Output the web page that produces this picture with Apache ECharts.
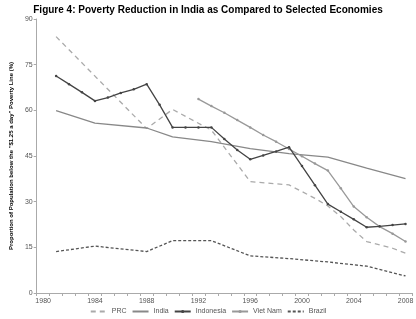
<!DOCTYPE html>
<html>
<head>
<meta charset="utf-8">
<script src="https://cdn.jsdelivr.net/npm/echarts@6/dist/echarts.min.js"></script>
<style>html,body{margin:0;padding:0;background:#fff;}#c{width:416px;height:319px;}</style>
</head>
<body>
<div id="c"></div>
<script>
var years = ['1980','1981','1982','1983','1984','1985','1986','1987','1988','1989','1990','1991','1992','1993','1994','1995','1996','1997','1998','1999','2000','2001','2002','2003','2004','2005','2006','2007','2008'];
var yTicks = [0, 15, 30, 45, 60, 75, 90];

var prcYears   = ['1981','1988','1990','1993','1996','1999','2000','2001','2002','2003','2004','2005','2006','2007','2008'];
var prcValues  = [84.2, 54.0, 60.3, 53.5, 36.6, 35.5, 33.3, 31.1, 28.6, 25.1, 20.7, 16.9, 15.8, 14.7, 13.1];

var indiaYears  = ['1981','1984','1988','1990','1993','1996','1999','2002','2005','2008'];
var indiaValues = [59.9, 55.8, 54.2, 51.3, 49.7, 47.4, 45.8, 44.6, 41.0, 37.6];

var indoYears  = ['1981','1982','1983','1984','1985','1986','1987','1988','1989','1990','1991','1992','1993','1994','1995','1996','1997','1998','1999','2000','2001','2002','2003','2004','2005','2006','2007','2008'];
var indoValues = [71.3, 68.6, 65.9, 63.1, 64.2, 65.7, 66.9, 68.6, 61.8, 54.4, 54.4, 54.4, 54.4, 50.6, 47.0, 43.9, 45.2, 46.5, 47.9, 41.7, 35.4, 29.2, 26.7, 24.2, 21.6, 21.9, 22.3, 22.7];

var vnYears  = ['1992','1993','1994','1995','1996','1997','1998','1999','2000','2001','2002','2003','2004','2005','2006','2007','2008'];
var vnValues = [63.7, 61.4, 59.2, 56.8, 54.4, 51.9, 49.7, 47.3, 44.9, 42.5, 40.2, 34.4, 28.4, 24.9, 21.8, 19.5, 16.9];

var brYears  = ['1981','1984','1988','1990','1993','1996','1999','2002','2005','2008'];
var brValues = [13.6, 15.4, 13.6, 17.2, 17.2, 12.2, 11.3, 10.2, 8.8, 5.6];

function align(ys, vs) {
  var out = years.map(function () { return null; });
  ys.forEach(function (y, i) { out[years.indexOf(y)] = vs[i]; });
  return out;
}

var chart = echarts.init(document.getElementById('c'), null, {renderer: 'canvas'});
var FONT = 'Liberation Sans, Arial, sans-serif';
var hide = {opacity: 0};
chart.setOption({
  animation: false,
  backgroundColor: '#fff',
  textStyle: {fontFamily: FONT},
  title: {
    text: 'Figure 4: Poverty Reduction in India as Compared to Selected Economies',
    left: 'center', top: 0,
    textStyle: {fontSize: 10, fontWeight: 'bold', color: '#000', fontFamily: FONT}
  },
  legend: {
    bottom: -1, left: 'center',
    itemWidth: 16, itemHeight: 4, itemGap: 5,
    textStyle: {fontSize: 7, color: '#555', fontFamily: FONT},
    data: [
      {name: 'PRC', itemStyle: hide},
      {name: 'India', itemStyle: hide},
      {name: 'Indonesia'},
      {name: 'Viet Nam'},
      {name: 'Brazil', itemStyle: hide}
    ]
  },
  grid: {left: 26, top: 19, width: 393, bottom: 26, containLabel: false},
  xAxis: {
    type: 'category', data: years, boundaryGap: true,
    axisLine: {lineStyle: {color: '#aaa', width: 1}},
    axisTick: {show: true, interval: 0, length: 3, lineStyle: {color: '#aaa'}},
    axisLabel: {interval: 3, fontSize: 7, color: '#555', margin: 5, fontFamily: FONT},
    splitLine: {show: false}
  },
  yAxis: {
    type: 'value', min: yTicks[0], max: yTicks[yTicks.length - 1], interval: 15,
    name: 'Proportion of Population below the "$1.25 a day" Poverty Line (%)',
    nameLocation: 'middle', nameGap: 16,
    nameTextStyle: {fontSize: 6, fontWeight: 'bold', color: '#000', fontFamily: FONT},
    axisLine: {show: true, lineStyle: {color: '#aaa', width: 1}},
    axisTick: {show: true, length: 3, lineStyle: {color: '#aaa'}},
    axisLabel: {fontSize: 7, color: '#555', margin: 4, fontFamily: FONT},
    splitLine: {show: false}
  },
  series: [
    {name: 'PRC', type: 'line', data: align(prcYears, prcValues), connectNulls: true,
     symbol: 'none', color: '#aaa', lineStyle: {color: '#aaa', width: 1.3, type: [5, 4]}, z: 2},
    {name: 'India', type: 'line', data: align(indiaYears, indiaValues), connectNulls: true,
     symbol: 'none', color: '#888', lineStyle: {color: '#888', width: 1.3}, z: 2},
    {name: 'Indonesia', type: 'line', data: align(indoYears, indoValues), connectNulls: true,
     symbol: 'circle', symbolSize: 2.5, showSymbol: true, color: '#444',
     itemStyle: {color: '#444'}, lineStyle: {color: '#444', width: 1.3}, z: 4},
    {name: 'Viet Nam', type: 'line', data: align(vnYears, vnValues), connectNulls: true,
     symbol: 'circle', symbolSize: 2.5, showSymbol: true, color: '#999',
     itemStyle: {color: '#999'}, lineStyle: {color: '#999', width: 1.3}, z: 3},
    {name: 'Brazil', type: 'line', data: align(brYears, brValues), connectNulls: true,
     symbol: 'none', color: '#555', lineStyle: {color: '#555', width: 1.3, type: [3, 2]}, z: 2}
  ]
});
</script>
</body>
</html>
